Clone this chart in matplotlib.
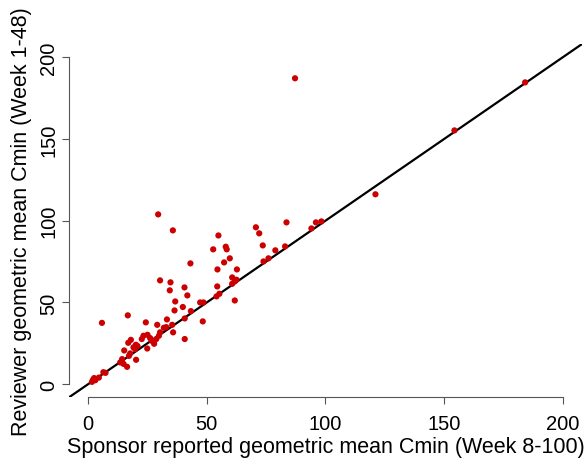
import matplotlib
matplotlib.use("Agg")
import matplotlib.pyplot as plt

plt.rcParams['font.family'] = ['Liberation Sans', 'DejaVu Sans']

sponsor = [184.2, 154.4, 121.1, 87.2, 83.6, 96.0, 98.3, 94.1, 83.0, 29.5,
           35.7, 54.9, 70.7, 72.1, 73.6, 78.9, 58.0, 58.4, 52.7, 43.1,
           59.7, 57.3, 54.5, 62.7, 73.9, 76.0, 60.7, 62.5, 61.8, 60.7,
           30.3, 34.7, 34.4, 40.6, 41.8, 54.4, 55.3, 54.1, 61.8, 36.7,
           39.9, 47.2, 48.6, 36.4, 43.3, 24.3, 33.2, 29.1, 48.3, 40.7,
           31.9, 32.9, 35.8, 40.7, 30.3, 29.8, 28.7, 25.0, 23.3, 22.6,
           26.1, 26.8, 16.7, 5.8, 16.9, 18.0, 20.1, 20.8, 19.1, 19.8,
           15.2, 24.9, 27.8, 17.7, 17.2, 20.2, 14.3, 13.5, 14.9, 16.4,
           6.4, 7.3, 2.5, 2.0, 3.0, 1.6, 4.5, 35.4]
reviewer = [184.7, 155.3, 116.2, 187.2, 99.0, 99.0, 99.6, 95.3, 84.3, 103.9,
            94.1, 91.0, 96.0, 92.3, 84.9, 81.9, 84.1, 82.5, 82.5, 73.9,
            77.0, 74.5, 70.2, 70.2, 75.1, 77.0, 65.3, 63.9, 62.9, 61.4,
            63.5, 62.3, 57.4, 59.2, 54.3, 59.8, 55.3, 53.7, 51.2, 50.6,
            47.2, 50.0, 50.0, 45.1, 44.7, 37.8, 39.6, 36.3, 38.4, 40.2,
            34.5, 34.9, 31.7, 27.6, 31.7, 29.6, 27.6, 30.2, 29.6, 27.6,
            28.2, 26.5, 42.1, 37.5, 25.3, 27.1, 24.1, 23.3, 22.5, 21.4,
            20.6, 21.8, 24.7, 18.8, 17.3, 14.9, 15.3, 13.3, 12.4, 10.6,
            7.3, 6.9, 3.7, 2.6, 2.4, 1.4, 4.0, 36.3]

ticks = [0, 50, 100, 150, 200]
tick_labels = ["0", "50", "100", "150", "200"]

W, H = 587, 464
fig = plt.figure(figsize=(W / 100, H / 100), dpi=100)
left, right = 69.2 / W, 581.6 / W
bottom, top = (H - 398.2) / H, (H - 45.3) / H
ax = fig.add_axes([left, bottom, right - left, top - bottom])
axw, axh = 581.6 - 69.2, 398.2 - 45.3

ax.set_xlim(-8, 208)
ax.set_ylim(-8, 208)

ax.axline((0, 0), slope=1, color='black', lw=1.6, zorder=2)
ax.scatter(sponsor, reviewer, s=20, color='#CC0000', edgecolors='none', zorder=3)

for s in ['top', 'right']:
    ax.spines[s].set_visible(False)
ax.spines['bottom'].set_bounds(0, 200)
ax.spines['left'].set_bounds(0, 200)
for s in ['bottom', 'left']:
    ax.spines[s].set_color('#555555')
    ax.spines[s].set_linewidth(0.8)

ax.set_xticks(ticks)
ax.set_xticklabels(tick_labels)
ax.set_yticks(ticks)
ax.set_yticklabels(tick_labels, rotation=90)
ax.tick_params(axis='both', direction='out', length=5, width=0.8, color='#555555',
               labelsize=14.5, labelcolor='black')
for t in ax.get_xticklabels():
    t.set_va('baseline')
for t in ax.get_yticklabels():
    t.set_va('center')
    t.set_ha('right')
ax.tick_params(axis='x', pad=18)
ax.tick_params(axis='y', pad=3)

ax.set_xlabel('Sponsor reported geometric mean Cmin (Week 8-100)', fontsize=15.5)
ax.xaxis.label.set_va('baseline')
ax.xaxis.set_label_coords(0.5, (398.2 - 453.4) / axh)
ax.set_ylabel('Reviewer geometric mean Cmin (Week 1-48)', fontsize=15.5)
ax.yaxis.label.set_va('baseline')
ax.yaxis.set_label_coords((27.1 - 69.2) / axw, 0.5)

fig.savefig('out.png', dpi=100)
